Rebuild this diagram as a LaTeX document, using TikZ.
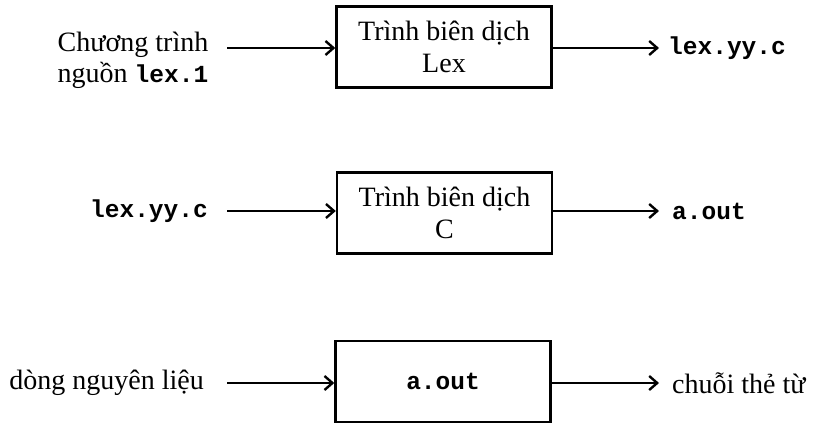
\documentclass[tikz,border=0pt]{standalone}
\usepackage{fontspec}
\setmainfont{Liberation Serif}
\setmonofont{Liberation Mono}
\usetikzlibrary{arrows.meta}
\tikzset{
  procbox/.style={draw, line width=2.4pt, minimum width=215pt, minimum height=81pt, inner sep=0pt, align=center,
    font=\fontsize{28}{32}\selectfont},
  lbl/.style={inner sep=0pt, font=\fontsize{28}{31}\selectfont, align=center},
  code/.style={inner sep=0pt, font=\fontsize{24.5}{28}\selectfont\ttfamily\bfseries},
  flow/.style={line width=2.2pt, -{Straight Barb[length=8pt,width=14pt,line width=2.4pt]}}
}
\begin{document}
\begin{tikzpicture}[x=1pt,y=1pt]
\useasboundingbox (0,0) rectangle (813,424);
% boxes
\node[procbox] (b1) at (444,377) {Trình biên dịch\\Lex};
\node[procbox] (b2) at (444.5,211) {Trình biên dịch\\C};
\node[procbox] (b3) at (443,42.5) {\ttfamily\bfseries\fontsize{24.5}{28}\selectfont a.out};
% inputs / outputs
\node[lbl] (in1) at (133,364) {Chương trình\\nguồn {\ttfamily\bfseries\fontsize{24.5}{28}\selectfont lex.1}};
\node[code, anchor=west] (out1) at (668,376) {lex.yy.c};
\node[code, anchor=east] (in2) at (208,213) {lex.yy.c};
\node[code, anchor=west] (out2) at (672,213) {a.out};
\node[lbl, anchor=east] (in3) at (204,41) {dòng nguyên liệu};
\node[lbl, anchor=west] (out3) at (672,41) {chuỗi thẻ từ};
% arrow end points
\coordinate (s1) at (227,376);
\coordinate (e1) at (659,376);
\coordinate (s2) at (227,213);
\coordinate (e2) at (659,213);
\coordinate (s3) at (227,41);
\coordinate (e3) at (659,41);
\draw[flow] (s1) -- (s1 -| b1.west);
\draw[flow] (e1 -| b1.east) -- (e1);
\draw[flow] (s2) -- (s2 -| b2.west);
\draw[flow] (e2 -| b2.east) -- (e2);
\draw[flow] (s3) -- (s3 -| b3.west);
\draw[flow] (e3 -| b3.east) -- (e3);
\end{tikzpicture}
\end{document}
